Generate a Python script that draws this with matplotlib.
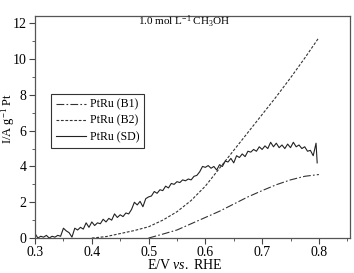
import matplotlib
matplotlib.use('Agg')
import matplotlib.pyplot as plt
from matplotlib.ticker import MultipleLocator

plt.rcParams['font.family'] = ['Liberation Serif', 'DejaVu Serif']
plt.rcParams['mathtext.fontset'] = 'custom'
plt.rcParams['mathtext.rm'] = 'Liberation Serif'
plt.rcParams['mathtext.it'] = 'Liberation Serif:italic'

# PtRu (SD) - noisy curve
sd_v = [0.300, 0.305, 0.310, 0.315, 0.320, 0.325, 0.330, 0.335, 0.340, 0.345,
        0.350, 0.355, 0.360, 0.365, 0.370, 0.375, 0.380, 0.385, 0.390, 0.395,
        0.400, 0.405, 0.410, 0.415, 0.420, 0.425, 0.430, 0.435, 0.440, 0.445,
        0.450, 0.455, 0.460, 0.465, 0.470, 0.475, 0.480, 0.485, 0.490, 0.495,
        0.500, 0.505, 0.510, 0.515, 0.520, 0.525, 0.530, 0.535, 0.540, 0.545,
        0.550, 0.555, 0.560, 0.565, 0.570, 0.575, 0.580, 0.585, 0.590, 0.595,
        0.600, 0.605, 0.610, 0.615, 0.620, 0.625, 0.630, 0.635, 0.640, 0.645,
        0.650, 0.655, 0.660, 0.665, 0.670, 0.675, 0.680, 0.685, 0.690, 0.695,
        0.700, 0.705, 0.710, 0.715, 0.720, 0.725, 0.730, 0.735, 0.740, 0.745,
        0.750, 0.755, 0.760, 0.765, 0.770, 0.775, 0.780, 0.785, 0.790, 0.795,
        0.797]
sd_i = [0.25, 0.0, 0.1, 0.05, 0.15, 0.0, 0.1, 0.05, 0.15, 0.1,
        0.55, 0.4, 0.3, 0.05, 0.55, 0.45, 0.6, 0.5, 0.85, 0.6,
        0.9, 0.7, 0.85, 0.8, 1.05, 0.9, 1.1, 1.0, 1.35, 1.15,
        1.3, 1.2, 1.4, 1.35, 1.6, 2.0, 1.85, 2.05, 1.75, 2.2,
        2.3, 2.35, 2.6, 2.5, 2.7, 2.65, 2.9, 2.8, 3.05, 3.0,
        3.15, 3.1, 3.25, 3.2, 3.3, 3.25, 3.45, 3.5, 3.7, 4.0,
        3.95, 4.05, 3.9, 4.0, 3.8, 4.1, 4.0, 4.3, 4.25, 4.45,
        4.2, 4.6, 4.5, 4.7, 4.55, 4.85, 4.8, 4.95, 4.85, 5.1,
        4.95, 5.15, 5.0, 5.35, 5.1, 5.3, 5.05, 5.2, 5.0, 5.25,
        5.05, 5.35, 5.1, 5.2, 5.0, 5.1, 4.85, 4.9, 4.6, 5.3,
        4.2]

# PtRu (B1)
b1_v = [0.50, 0.525, 0.55, 0.575, 0.60, 0.625, 0.65, 0.675, 0.70, 0.725, 0.75, 0.775, 0.80]
b1_i = [0.0, 0.22, 0.45, 0.8, 1.15, 1.5, 1.9, 2.3, 2.65, 2.98, 3.25, 3.45, 3.55]

# PtRu (B2)
b2_v = [0.40, 0.425, 0.45, 0.475, 0.50, 0.525, 0.55, 0.575, 0.60, 0.625, 0.65,
        0.675, 0.70, 0.725, 0.75, 0.775, 0.80]
b2_i = [0.0, 0.08, 0.25, 0.42, 0.63, 1.0, 1.47, 2.1, 2.9, 3.9, 4.9,
        5.9, 6.9, 7.9, 8.95, 10.05, 11.2]

fig = plt.figure(figsize=(3.54, 2.73), dpi=100)
ax = fig.add_axes([0.099, 0.128, 0.89, 0.813])

ax.plot(b1_v, b1_i, color='#333333', lw=0.8, ls=(0, (7, 2, 1.5, 2)), label='PtRu (B1)')
ax.plot(b2_v, b2_i, color='#333333', lw=0.8, ls=(0, (2.5, 1.5)), label='PtRu (B2)')
ax.plot(sd_v, sd_i, color='#222222', lw=0.8, label='PtRu (SD)')

ax.set_xlim(0.3, 0.855)
ax.set_ylim(0, 12.4)
ax.xaxis.set_major_locator(MultipleLocator(0.1))
ax.xaxis.set_minor_locator(MultipleLocator(0.05))
ax.yaxis.set_major_locator(MultipleLocator(2))
ax.yaxis.set_minor_locator(MultipleLocator(1))
ax.tick_params(which='both', direction='out', labelsize=10, color='#444444', pad=2)
ax.tick_params(which='major', length=4)
ax.tick_params(which='minor', length=2)
for s in ax.spines.values():
    s.set_color('#555555')
    s.set_linewidth(0.9)

ax.set_xlabel('E/V $\\mathit{vs.}$ RHE', fontsize=10)
ax.set_ylabel('I/A g$^{-1}$ Pt', fontsize=9)
ax.xaxis.set_label_coords(0.475, -0.092)
ax.yaxis.set_label_coords(-0.056, 0.54)
ax.text(0.563, 12.05, '1.0 mol L$^{-1}$ CH$_3$OH', fontsize=8, ha='center', va='center')

leg = ax.legend(loc='upper left', bbox_to_anchor=(0.032, 0.676), fontsize=8.5,
                handlelength=2.6, handletextpad=0.3, labelspacing=0.35,
                fancybox=False, borderpad=0.4, framealpha=1)
leg.get_frame().set_edgecolor('#333333')
leg.get_frame().set_linewidth(0.8)

fig.savefig('out.png', dpi=100)
